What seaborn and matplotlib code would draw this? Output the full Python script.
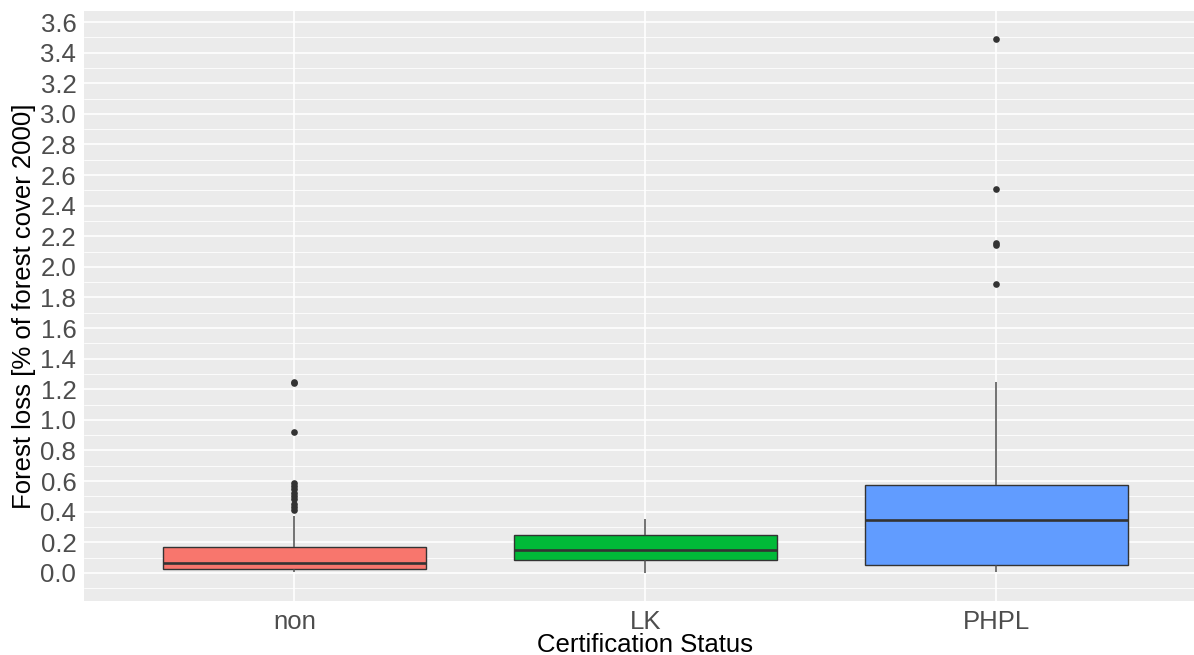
import numpy as np
import pandas as pd
import matplotlib
matplotlib.use("Agg")
import matplotlib.pyplot as plt
from matplotlib.ticker import MultipleLocator, FormatStrFormatter
import seaborn as sns

# Forest loss per concession, grouped by certification status
categories = ["non", "LK", "PHPL"]

loss_non = [
    0.005, 0.008, 0.010, 0.012, 0.014, 0.015, 0.017, 0.018, 0.019, 0.020,
    0.021, 0.022, 0.023, 0.025, 0.026, 0.026, 0.030, 0.034, 0.037, 0.040,
    0.043, 0.046, 0.049, 0.052, 0.055, 0.058, 0.060, 0.062, 0.065, 0.067,
    0.067, 0.072, 0.078, 0.084, 0.090, 0.096, 0.102, 0.108, 0.115, 0.122,
    0.130, 0.138, 0.147, 0.157, 0.168, 0.168, 0.240, 0.370, 0.410, 0.430,
    0.450, 0.480, 0.500, 0.520, 0.550, 0.570, 0.590, 0.920, 1.240, 1.250,
]
loss_lk = [
    0.002, 0.030, 0.060, 0.085, 0.110, 0.130, 0.150, 0.180, 0.220, 0.250,
    0.280, 0.320, 0.355,
]
loss_phpl = [
    0.006, 0.012, 0.018, 0.025, 0.032, 0.040, 0.047, 0.054, 0.090, 0.130,
    0.170, 0.210, 0.250, 0.300, 0.344, 0.380, 0.420, 0.450, 0.480, 0.510,
    0.540, 0.571, 0.800, 1.250, 1.890, 2.140, 2.155, 2.510, 3.490,
]

colors = ["#F8766D", "#00BA38", "#619CFF"]
y_ticks = [round(0.2 * i, 1) for i in range(19)]

df = pd.DataFrame({
    "status": (["non"] * len(loss_non) + ["LK"] * len(loss_lk)
               + ["PHPL"] * len(loss_phpl)),
    "loss": loss_non + loss_lk + loss_phpl,
})

sns.set_theme(style="darkgrid")
plt.rcParams["font.family"] = ["Liberation Sans", "DejaVu Sans"]

fig = plt.figure(figsize=(11.94, 6.55), dpi=100)
ax = fig.add_axes([84 / 1194, 1 - 600.7 / 655, 1 - 84 / 1194, (600.7 - 11) / 655])
ax.set_facecolor("#EBEBEB")

edge = "#333333"
sns.boxplot(
    data=df, x="status", y="loss", hue="status", order=categories,
    hue_order=categories, palette=colors, legend=False, width=0.75,
    whis=1.5, showcaps=False, linecolor=edge, linewidth=1.0, saturation=1,
    medianprops=dict(color=edge, linewidth=1.9),
    whiskerprops=dict(color="#4D4D4D", linewidth=1.1),
    flierprops=dict(marker="o", markerfacecolor=edge, markeredgecolor=edge,
                    markersize=4.8, markeredgewidth=0),
    ax=ax,
)

ax.set_xlim(-0.6, 2.564)
ax.set_ylim(-0.182, 3.672)
ax.set_yticks(y_ticks)
ax.yaxis.set_major_formatter(FormatStrFormatter("%.1f"))
ax.yaxis.set_minor_locator(MultipleLocator(0.1))

ax.grid(which="major", color="white", linewidth=1.2)
ax.grid(which="minor", axis="y", color="white", linewidth=0.6)
ax.set_axisbelow(True)
for s in ax.spines.values():
    s.set_visible(False)

ax.tick_params(axis="both", which="major", length=3.5, width=0.8, color=edge,
               labelsize=18.5, labelcolor="#4D4D4D", pad=2)
ax.tick_params(axis="both", which="minor", length=0)
ax.tick_params(axis="x", pad=3)

ax.set_xlabel("Certification Status", fontsize=18.5, color="black", labelpad=0)
ax.set_ylabel("Forest loss [% of forest cover 2000]", fontsize=18.5,
              color="black", labelpad=3)
ax.xaxis.set_label_coords((645 - 84) / (1194 - 84), -0.054)

fig.savefig("out.png", dpi=100, facecolor="white")
